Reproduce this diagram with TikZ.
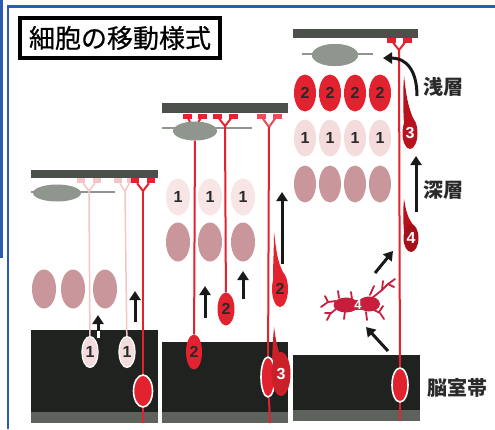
\documentclass[tikz,border=0pt]{standalone}
\usepackage{fontspec}
\setsansfont{Liberation Sans}
\newfontfamily\jpfont{Noto Sans CJK JP}
\newfontfamily\jptitle[FakeBold=0.7]{Noto Sans CJK JP}
\usetikzlibrary{shapes.geometric,arrows.meta}

\definecolor{frameblue}{HTML}{2A5CB0}
\definecolor{bardark}{HTML}{4B504B}
\definecolor{zoneblack}{HTML}{1F221F}
\definecolor{zonegray}{HTML}{5E625D}
\definecolor{gliagray}{HTML}{8E968E}
\definecolor{cellred}{HTML}{E2222E}
\definecolor{darkred}{HTML}{B8121C}
\definecolor{crimson}{HTML}{C81E3E}
\definecolor{palepink}{HTML}{F5DCDC}
\definecolor{palefiber}{HTML}{F2C6C6}
\definecolor{rosecell}{HTML}{C9969C}
\definecolor{textgray}{HTML}{2A2A2A}

\begin{document}
\begin{tikzpicture}[x=1pt,y=-1pt,
  ncell/.style={ellipse,inner sep=0pt,minimum width=24pt,minimum height=37pt,
    font=\sffamily\bfseries\fontsize{16}{16}\selectfont},
  gen1/.style={ncell,fill=palepink,text=textgray},
  gen2/.style={ncell,fill=cellred,text=textgray},
  gen3/.style={ncell,fill=darkred,text=white,minimum width=15pt,minimum height=32pt},
  rose/.style={ncell,fill=rosecell,minimum height=39pt},
  vzcell/.style={ncell,fill=cellred,draw=white,line width=1.6pt,minimum width=17pt,minimum height=33pt},
  glia/.style={ellipse,fill=gliagray,inner sep=0pt,minimum width=46pt,minimum height=18pt},
  foot/.style={rectangle,fill=cellred,inner sep=0pt,minimum width=9pt,minimum height=5pt},
  pfoot/.style={foot,fill=palefiber},
  fiber/.style={draw=cellred,line width=2pt},
  pfiber/.style={draw=palefiber,line width=1.5pt},
  process/.style={draw=gliagray,line width=2pt},
  migr/.style={-{Triangle[width=11pt,length=9pt]},line width=3pt,black!90},
  layer/.style={font=\jpfont\bfseries\fontsize{20}{20}\selectfont,text=textgray}
]
\useasboundingbox (0,0) rectangle (495,429);
\fill[white] (0,0) rectangle (495,429);

% frame and title
\draw[frameblue,line width=3pt] (1.5,0) -- (1.5,258);
\draw[frameblue,line width=2.5pt] (8,429) -- (8,6.5) -- (495,6.5);
\node[draw=black,line width=3.5pt,fill=white,minimum width=200pt,minimum height=40pt,
  font=\jptitle\fontsize{26}{26}\selectfont] (title) at (120,38) {細胞の移動様式};

% ---- stage 1 ----
\fill[zoneblack] (31,330) rectangle (158,412);
\fill[zonegray] (31,412) rectangle (158,423);
\fill[bardark] (31,170) rectangle (158,178);

\node[glia,minimum width=48pt,minimum height=17pt] (gl1) at (57,193) {};
\coordinate (gl1l) at (31,192);
\coordinate (gl1r) at (115,192);
\draw[process] (gl1l) -- (gl1r);

\node[pfoot,minimum width=8pt] (p1a) at (81,180.5) {};
\node[pfoot,minimum width=8pt] (p1b) at (97,180.5) {};
\node[pfoot,minimum width=8pt] (p1c) at (118,180.5) {};
\node[pfoot,minimum width=8pt] (p1d) at (131,180.5) {};
\node[foot,minimum width=8pt] (r1a) at (135,180.5) {};
\node[foot,minimum width=8pt] (r1b) at (151,180.5) {};
\coordinate (fk1a) at (89,191);
\coordinate (fk1b) at (125,191);
\coordinate (fk1c) at (143,191);
\coordinate (bt1) at (143,423);

\node[rose] (ro1a) at (44,289) {};
\node[rose] (ro1b) at (73,289) {};
\node[rose] (ro1c) at (105,289) {};

\node[gen1,draw=white,line width=1.2pt,minimum width=16pt,minimum height=31pt] (c1a) at (90,352) {1};
\node[gen1,draw=white,line width=1.2pt,minimum width=16pt,minimum height=31pt] (c1b) at (127,352) {1};
\node[vzcell,minimum width=19pt,minimum height=32pt] (vz1) at (143,391) {};

\draw[pfiber] (fk1a) -- (p1a); \draw[pfiber] (fk1a) -- (p1b);
\draw[pfiber] (fk1b) -- (p1c); \draw[pfiber] (fk1b) -- (p1d);
\draw[pfiber] (fk1a) -- (c1a);
\draw[pfiber] (fk1b) -- (c1b);
\draw[fiber] (fk1c) -- (r1a); \draw[fiber] (fk1c) -- (r1b);
\draw[fiber] (fk1c) -- (vz1);
\draw[fiber] (vz1) -- (bt1);

\coordinate (a1s) at (98,338);
\coordinate (a1e) at (98,315);
\coordinate (a2s) at (135,322);
\coordinate (a2e) at (135,291);
\draw[migr] (a1s) -- (a1e);
\draw[white,line width=3pt] (98,331) -- (a1s);
\draw[migr] (a2s) -- (a2e);

% ---- stage 2 ----
\fill[zoneblack] (162,342) rectangle (288,412);
\fill[zonegray] (162,412) rectangle (288,423);
\fill[bardark] (162,103) rectangle (288,113);

\coordinate (gl2l) at (162,128);
\coordinate (gl2r) at (252,128);
\draw[process] (gl2l) -- (gl2r);
\node[foot] (r2a) at (187,116) {};
\node[foot] (r2b) at (202,116) {};
\node[foot] (r2c) at (217,116) {};
\node[foot] (r2d) at (233,116) {};
\node[foot,fill=cellred!80] (r2e) at (261,116) {};
\node[foot,fill=cellred!80] (r2f) at (277,116) {};
\coordinate (fk2b) at (225,126);
\coordinate (fk2c) at (269,127);
\coordinate (bt2) at (270,423);
\draw[fiber] (194,130) -- (r2a); \draw[fiber] (194,130) -- (r2b);
\node[glia,minimum width=44pt,minimum height=19pt] (gl2) at (195,131) {};

\node[gen1,fill=palepink!75] (c2a) at (178,197) {1};
\node[gen1,fill=palepink!75] (c2b) at (210,197) {1};
\node[gen1,fill=palepink!75] (c2c) at (243,197) {1};
\node[rose] (ro2a) at (178,242) {};
\node[rose] (ro2b) at (210,242) {};
\node[rose] (ro2c) at (243,242) {};

% migrating cells with leading process
\fill[cellred] (273,280) .. controls (273,262) and (274,250) .. (274,232)
  .. controls (276,248) and (277,262) .. (284,274) -- cycle;
\fill[cellred!90!black] (272,370) .. controls (272,352) and (273,340) .. (274,327)
  .. controls (276,340) and (277,352) .. (285,364) -- cycle;

\node[gen2,minimum width=16pt,minimum height=35pt] (n2a) at (194,352) {2};
\node[gen2,minimum width=17pt,minimum height=33pt] (n2b) at (226,309) {2};
\node[gen2,minimum width=16pt,minimum height=36pt] (n2c) at (280,289) {2};
\node[vzcell,minimum width=14pt,minimum height=40pt] (vz2) at (268,377) {};
\node[gen3,fill=cellred!90!black,minimum width=19pt,minimum height=44pt] (n3a) at (281,374) {3};

\draw[fiber] (fk2b) -- (r2c); \draw[fiber] (fk2b) -- (r2d);
\draw[fiber,draw=cellred!80] (fk2c) -- (r2e); \draw[fiber,draw=cellred!80] (fk2c) -- (r2f);
\draw[fiber] (gl2) -- (n2a);
\draw[fiber] (fk2b) -- (n2b);
\draw[fiber] (fk2c) -- (vz2);
\draw[fiber] (vz2) -- (bt2);

\coordinate (a3s) at (205,318);
\coordinate (a3e) at (205,286);
\coordinate (a4s) at (243,299);
\coordinate (a4e) at (243,271);
\coordinate (a5s) at (282,264);
\coordinate (a5e) at (282,192);
\draw[migr] (a3s) -- (a3e);
\draw[migr] (a4s) -- (a4e);
\draw[migr] (a5s) -- (a5e);

% ---- stage 3 ----
\fill[zoneblack] (293,355) rectangle (420,410);
\fill[zonegray] (293,410) rectangle (420,421);
\fill[bardark] (293,29) rectangle (418,38);

\node[glia,minimum width=46pt,minimum height=22pt] (gl3) at (335,55) {};
\coordinate (gl3l) at (302,54);
\coordinate (gl3r) at (373,54);
\draw[process] (gl3l) -- (gl3r);
\node[glia,minimum width=46pt,minimum height=22pt] at (gl3) {};

\node[foot] (r3a) at (391,40) {};
\node[foot] (r3b) at (407,40) {};
\coordinate (fk3) at (399,50);
\coordinate (bt3) at (400,421);

\foreach \x [count=\i] in {305,330,355,380} {
  \node[gen2,minimum width=22pt] (k\i) at (\x,93) {2};
  \node[gen1,minimum width=22pt] (j\i) at (\x,138) {1};
  \node[rose,minimum width=22pt,minimum height=37pt] (q\i) at (\x,184) {};
}

\fill[darkred] (404,126) .. controls (403,105) and (403,90) .. (404,76)
  .. controls (406,92) and (407,105) .. (414,120) -- cycle;
\fill[darkred] (404,232) .. controls (403,220) and (403,210) .. (404,199)
  .. controls (406,210) and (407,218) .. (415,227) -- cycle;
\node[gen3,minimum width=15pt,minimum height=32pt] (n3b) at (410,133) {3};
\node[gen3,fill=darkred!90!black,minimum width=15pt,minimum height=28pt] (n4a) at (411,238) {4};
\node[vzcell,minimum width=16pt,minimum height=34pt] (vz3) at (400,385) {};

\draw[fiber] (fk3) -- (r3a); \draw[fiber] (fk3) -- (r3b);
\draw[fiber] (fk3) -- (vz3);
\draw[fiber] (vz3) -- (bt3);

% multipolar cell
\begin{scope}[crimson,line width=1.8pt,line cap=round,line join=round]
  \draw (372,298) -- (382,290) -- (388,284) -- (395,279);
  \draw (382,290) -- (383,281);
  \draw (388,284) -- (394,287);
  \draw (374,286) -- (370,295);
  \draw (374,310) -- (380,313) -- (384,319);
  \draw (379,312) -- (383,306);
  \draw (366,312) -- (367,320);
  \draw (336,301) -- (328,302) -- (321,307);
  \draw (328,302) -- (325,296);
  \draw (339,298) -- (338,291);
  \draw (336,309) -- (330,314) -- (327,320);
  \draw (331,313) -- (325,313);
  \draw (345,311) -- (344,319);
  \draw (352,299) -- (351,292);
  \fill (346,305) ellipse (12.5 and 7.5);
  \fill (369,304) ellipse (11 and 7.5);
  \fill (352,300) rectangle (364,310);
\end{scope}
\node[text=white,inner sep=0pt,font=\sffamily\bfseries\fontsize{13}{13}\selectfont] (star) at (358,305) {4};

\coordinate (a6s) at (417,96);
\coordinate (a6e) at (383,58);
\draw[migr] (a6s) .. controls (417,70) and (406,58) .. (a6e);
\coordinate (a7s) at (416,212);
\coordinate (a7e) at (416,156);
\draw[migr] (a7s) -- (a7e);
\coordinate (a8s) at (375,273);
\coordinate (a8e) at (393,251);
\draw[migr] (a8s) -- (a8e);
\coordinate (a9s) at (388,351);
\coordinate (a9e) at (366,327);
\draw[migr] (a9s) -- (a9e);

% layer names
\node[layer] (upper) at (443,87) {浅層};
\node[layer] (deep) at (443,190) {深層};
\node[layer] (vz) at (457,388) {脳室帯};
\end{tikzpicture}
\end{document}
